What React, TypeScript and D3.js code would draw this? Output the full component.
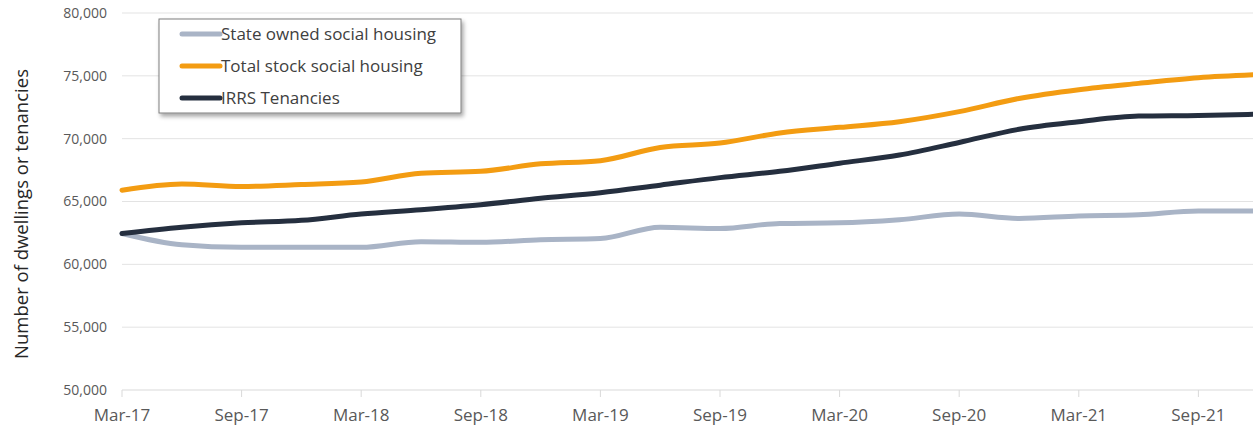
import React from "react";
import * as d3 from "d3";

const quarters = ["Mar-17","Jun-17","Sep-17","Dec-17","Mar-18","Jun-18","Sep-18","Dec-18","Mar-19","Jun-19","Sep-19","Dec-19","Mar-20","Jun-20","Sep-20","Dec-20","Mar-21","Jun-21","Sep-21","Dec-21"];
const stateOwned = [62450,61550,61350,61350,61350,61800,61750,61950,62050,62950,62850,63250,63300,63550,64000,63650,63850,63950,64250,64250];
const totalStock = [65900,66400,66200,66350,66550,67250,67400,68000,68250,69300,69650,70450,70900,71350,72150,73200,73900,74400,74850,75100];
const irrs = [62450,62950,63300,63500,64000,64350,64750,65250,65700,66300,66900,67400,68050,68700,69700,70750,71350,71800,71850,71950];
const yTicks = [50000,55000,60000,65000,70000,75000,80000];
const xTickLabels = ["Mar-17","Sep-17","Mar-18","Sep-18","Mar-19","Sep-19","Mar-20","Sep-20","Mar-21","Sep-21"];

const seriesNames = ["State owned social housing","Total stock social housing","IRRS Tenancies"];
const seriesColors = ["#A9B4C6","#F39C12","#252F3F"];

const W = 1253, H = 428;
const FONT = "'Open Sans', Lato, sans-serif";

export default function App() {
  const x = d3.scaleLinear().domain([0, quarters.length - 1]).range([122, 122 + 19 * 59.8]);
  const y = d3.scaleLinear().domain([50000, 80000]).range([390, 13]);
  const line = d3.line<number>().x((_, i) => x(i)).y(d => y(d)).curve(d3.curveMonotoneX);
  const all = [stateOwned, totalStock, irrs];
  const fmt = d3.format(",");
  const legendX = 159, legendY = 19, legendW = 302, legendH = 94;
  return (
    <>
      <style>{`body{margin:0;background:#fff}`}</style>
      <svg width={W} height={H} style={{ display: "block" }} fontFamily={FONT}>
        <defs>
          <filter id="shadow" x="-10%" y="-10%" width="130%" height="140%">
            <feDropShadow dx="2" dy="3" stdDeviation="2" floodColor="#000" floodOpacity="0.35" />
          </filter>
          <clipPath id="plot"><rect x={0} y={0} width={W} height={H} /></clipPath>
        </defs>
        {yTicks.map(t => (
          <g key={t}>
            <line x1={122} x2={W} y1={y(t)} y2={y(t)} stroke={t === 50000 ? "#D9D9D9" : "#E3E3E3"} strokeWidth={1} />
            <text x={107} y={y(t)} dy="0.35em" textAnchor="end" fontSize={14} fill="#595959">{fmt(t)}</text>
          </g>
        ))}
        {xTickLabels.map(lbl => {
          const i = quarters.indexOf(lbl);
          return (
            <g key={lbl}>
              <line x1={x(i)} x2={x(i)} y1={390} y2={397} stroke="#D9D9D9" />
              <text x={x(i)} y={415} dy="0.35em" textAnchor="middle" fontSize={17} fill="#595959">{lbl}</text>
            </g>
          );
        })}
        <text transform={`translate(22,214) rotate(-90)`} textAnchor="middle" dy="0.35em" fontSize={18.5} fill="#262626">Number of dwellings or tenancies</text>
        <g clipPath="url(#plot)">
          {all.map((s, k) => (
            <path key={k} d={line(s) || ""} fill="none" stroke={seriesColors[k]} strokeWidth={5} strokeLinejoin="round" strokeLinecap="round" />
          ))}
        </g>
        <rect x={legendX} y={legendY} width={legendW} height={legendH} fill="#fff" stroke="#7F7F7F" strokeWidth={1} filter="url(#shadow)" />
        {seriesNames.map((n, k) => {
          const ly = 34 + k * 32;
          return (
            <g key={n}>
              <line x1={182} x2={220} y1={ly} y2={ly} stroke={seriesColors[k]} strokeWidth={5} strokeLinecap="round" />
              <text x={221} y={ly} dy="0.35em" fontSize={17} fill="#404040">{n}</text>
            </g>
          );
        })}
      </svg>
    </>
  );
}
